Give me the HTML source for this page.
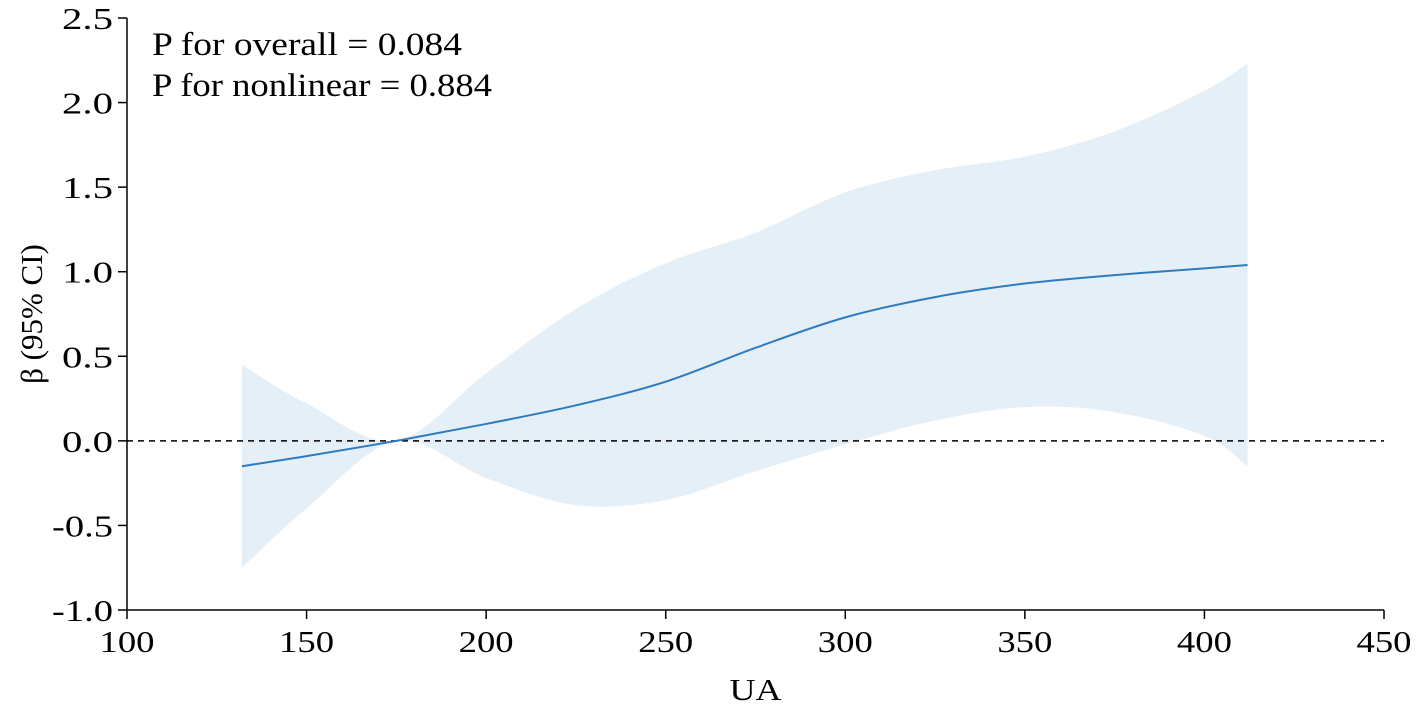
<!DOCTYPE html>
<html><head><meta charset="utf-8"><style>
html,body{margin:0;padding:0;background:#fff;}
svg text{font-family:"Liberation Serif",serif;fill:#000;}
</style></head><body>
<svg width="1417" height="706" viewBox="0 0 1417 706">
<g id="plot"></g>
</svg>
<script>
const xVals=[132,150,175,200,225,250,275,300,325,350,375,400,412];
const midVals=[-0.15,-0.09,0.0,0.10,0.21,0.35,0.55,0.73,0.85,0.93,0.98,1.02,1.04];
const upperVals=[0.45,0.22,0.0,0.40,0.78,1.05,1.23,1.47,1.60,1.68,1.83,2.07,2.23];
const lowerVals=[-0.75,-0.40,0.0,-0.22,-0.38,-0.35,-0.18,-0.02,0.12,0.20,0.17,0.03,-0.15];
const xTicks=[100,150,200,250,300,350,400,450];
const yTicks=[-1.0,-0.5,0.0,0.5,1.0,1.5,2.0,2.5];
const NS="http://www.w3.org/2000/svg";
const X0=127,X1=1384,Y0=610,Y1=18;
const sx=v=>X0+(v-100)/(450-100)*(X1-X0);
const sy=v=>Y0-(v+1)/(2.5+1)*(Y0-Y1);
const g=document.getElementById('plot');
function mk(t,a){const e=document.createElementNS(NS,t);for(const k in a)e.setAttribute(k,a[k]);g.appendChild(e);return e;}
function smooth(pts){let d=`M${pts[0][0]},${pts[0][1]}`;for(let i=0;i<pts.length-1;i++){const p0=pts[i-1]||pts[i],p1=pts[i],p2=pts[i+1],p3=pts[i+2]||p2;
const c1=[p1[0]+(p2[0]-p0[0])/6,p1[1]+(p2[1]-p0[1])/6],c2=[p2[0]-(p3[0]-p1[0])/6,p2[1]-(p3[1]-p1[1])/6];
d+=` C${c1[0]},${c1[1]} ${c2[0]},${c2[1]} ${p2[0]},${p2[1]}`;}return d;}
const up=xVals.map((x,i)=>[sx(x),sy(upperVals[i])]);
const lo=xVals.map((x,i)=>[sx(x),sy(lowerVals[i])]).reverse();
const band=mk('path',{d:smooth(up)+' L'+smooth(lo).slice(1)+' Z',fill:'#e4eff7'});


const ref=mk('line',{x1:X0,x2:X1,y1:sy(0),y2:sy(0),stroke:'#000','stroke-width':1.5,'stroke-dasharray':'6,5'});


const line=mk('path',{d:smooth(xVals.map((x,i)=>[sx(x),sy(midVals[i])])),fill:'none',stroke:'#2f7bbf','stroke-width':2});


const ax=mk('path',{d:`M${X0},${Y1} V${Y0} H${X1}`,fill:'none',stroke:'#000','stroke-width':1.5});


xTicks.forEach(v=>{const x=sx(v);
const t=mk('line',{x1:x,x2:x,y1:Y0,y2:Y0+9,stroke:'#000','stroke-width':1.5});


const l=mk('text',{x:x,y:Y0+42,'text-anchor':'middle','font-size':31,textLength:55,lengthAdjust:'spacingAndGlyphs'});l.textContent=v;

});
yTicks.forEach(v=>{const y=sy(v);
const t=mk('line',{x1:X0-9,x2:X0,y1:y,y2:y,stroke:'#000','stroke-width':1.5});


const s=v.toFixed(1);
const l=mk('text',{x:X0-14,y:y+11,'text-anchor':'end','font-size':31,textLength:s.length>3?61:51,lengthAdjust:'spacingAndGlyphs'});l.textContent=s;

});
const xt=mk('text',{x:(X0+X1)/2,y:700,'text-anchor':'middle','font-size':31,textLength:52,lengthAdjust:'spacingAndGlyphs'});xt.textContent='UA';


const yt=mk('text',{x:0,y:0,'text-anchor':'middle','font-size':31,transform:`translate(42,${(Y0+Y1)/2}) rotate(-90)`});yt.textContent='β (95% CI)';


const a1=mk('text',{x:152,y:55,'font-size':33,textLength:310,lengthAdjust:'spacingAndGlyphs'});a1.textContent='P for overall = 0.084';


const a2=mk('text',{x:152,y:96,'font-size':33,textLength:340,lengthAdjust:'spacingAndGlyphs'});a2.textContent='P for nonlinear = 0.884';


</script>
</body></html>
